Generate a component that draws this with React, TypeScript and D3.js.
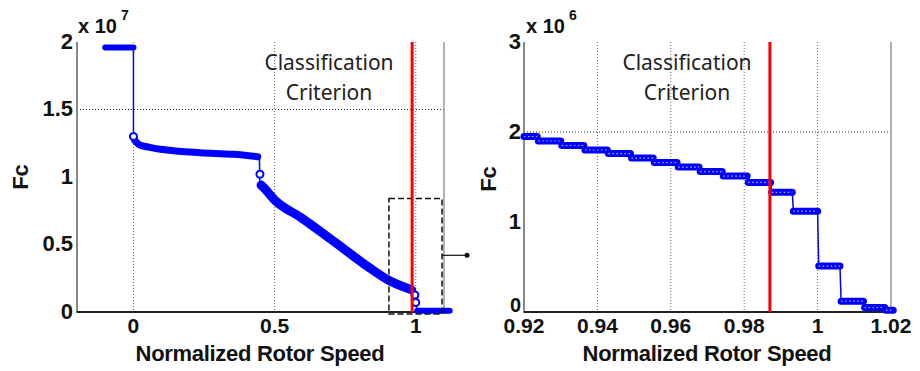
import * as d3 from 'd3';

// left panel: full range (Fc in units of 1e7)
const flatX = [-0.1, 0.0];
const flatY = [1.96, 1.96];
const plateauX = [0.005, 0.02, 0.057, 0.117, 0.236, 0.354, 0.44];
const plateauY = [1.27, 1.24, 1.22, 1.2, 1.18, 1.168, 1.15];
const decayX = [0.452, 0.462, 0.5, 0.593, 0.712, 0.831, 0.902, 0.985];
const decayY = [0.94, 0.92, 0.83, 0.7, 0.52, 0.335, 0.237, 0.165];
const tailX = [1.005, 1.12];
const tailY = [0.01, 0.01];
const jumpMarkers = [
  { x: 0.0, y: 1.3 },
  { x: 0.448, y: 1.02 },
  { x: 0.997, y: 0.126 },
  { x: 1.0, y: 0.07 },
];
const leftXTicks = [0, 0.5, 1];
const leftYTicks = [0, 0.5, 1, 1.5, 2];

// right panel: zoom (Fc in units of 1e6)
const stepStart = [0.92, 0.9239, 0.9303, 0.9366, 0.943, 0.9493, 0.9555, 0.962, 0.968, 0.9743, 0.9811, 0.9875, 0.9934, 1.0003, 1.0064, 1.0128, 1.0186];
const stepEnd = [0.9236, 0.93, 0.9363, 0.9427, 0.949, 0.9552, 0.9617, 0.9677, 0.974, 0.9808, 0.9872, 0.9931, 1.0, 1.0061, 1.0125, 1.0183, 1.0206];
const stepLevel = [1.95, 1.9, 1.85, 1.8, 1.76, 1.71, 1.66, 1.61, 1.56, 1.51, 1.44, 1.33, 1.12, 0.51, 0.12, 0.05, 0.02];
const rightXTicks = [0.92, 0.94, 0.96, 0.98, 1, 1.02];
const rightYTicks = [0, 1, 2, 3];

const criterion = 0.987;

const W = 920;
const H = 371;
const blue = '#0000ff';
const tickFont = '"Liberation Sans", Arial, sans-serif';
const noteFont = '"Noto Sans", "Open Sans", sans-serif';
const tickSize = 21;
const tickBase = 333;
const titleBase = 361;

type Pt = { x: number; y: number };
const zip = (xs: number[], ys: number[]): Pt[] => xs.map((x, i) => ({ x, y: ys[i] }));

function LeftPanel() {
  const x = d3.scaleLinear().domain([-0.2, 1.1]).range([77, 444]);
  const y = d3.scaleLinear().domain([0, 2]).range([312, 42]);
  const line = d3.line<Pt>().x(d => x(d.x)).y(d => y(d.y));
  const smooth = d3.line<Pt>().x(d => x(d.x)).y(d => y(d.y)).curve(d3.curveMonotoneX);
  const [x0, x1] = x.range();
  const [yb, yt] = y.range();

  const thin: Pt[] = [
    { x: 0, y: flatY[1] }, { x: 0, y: plateauY[0] },
  ];
  const thin2: Pt[] = [
    { x: 0.446, y: plateauY[plateauY.length - 1] }, { x: 0.448, y: decayY[0] },
  ];
  const thin3: Pt[] = [
    { x: 0.985, y: 0.165 }, { x: 1.0, y: 0.07 }, { x: 1.005, y: 0.01 },
  ];

  const boxX0 = x(0.905), boxX1 = x(1.093), boxY0 = y(0.84), boxY1 = y(-0.015);
  const arrowY = y(0.42);

  return (
    <g>
      {/* grid */}
      <line x1={x0} x2={x1} y1={y(1.5)} y2={y(1.5)} stroke="#333" strokeWidth={1} strokeDasharray="1,2" />
      {leftXTicks.map(t => (
        <line key={t} x1={x(t)} x2={x(t)} y1={yt} y2={yb} stroke="#666" strokeWidth={1} strokeDasharray="1,2" />
      ))}
      {/* axes */}
      <line x1={x0} x2={x0} y1={yt} y2={yb + 1} stroke="#888" strokeWidth={2} />
      <line x1={x1} x2={x1} y1={yt} y2={yb} stroke="#999" strokeWidth={1.5} />
      <line x1={x0} x2={x1} y1={yb} y2={yb} stroke="#222" strokeWidth={2} />
      {leftYTicks.map(t => (
        <text key={t} x={x0 - 4} y={y(t)} dy="0.3em" textAnchor="end" fontFamily={tickFont} fontWeight="bold" fontSize={22} fill="#111">{t}</text>
      ))}
      {leftXTicks.map(t => (
        <text key={t} x={x(t)} y={tickBase} textAnchor="middle" fontFamily={tickFont} fontWeight="bold" fontSize={tickSize} fill="#111">{t}</text>
      ))}
      <text x={78} y={33} fontFamily={tickFont} fontWeight="bold" fontSize={20} fill="#111">x 10</text>
      <text x={121} y={20} fontFamily={tickFont} fontWeight="bold" fontSize={14} fill="#111">7</text>
      <text x={260} y={titleBase} textAnchor="middle" fontFamily={tickFont} fontWeight="bold" fontSize={22} letterSpacing={-0.3} fill="#111">Normalized Rotor Speed</text>
      <text transform="translate(28,177) rotate(-90)" textAnchor="middle" fontFamily={tickFont} fontWeight="bold" fontSize={22} fill="#111">Fc</text>

      {/* data */}
      <path d={line(thin) ?? ''} fill="none" stroke={blue} strokeWidth={1.5} />
      <path d={line(thin2) ?? ''} fill="none" stroke={blue} strokeWidth={1.5} />
      <path d={line(thin3) ?? ''} fill="none" stroke={blue} strokeWidth={1.5} />
      <path d={line(zip(flatX, flatY)) ?? ''} fill="none" stroke={blue} strokeWidth={6} strokeLinecap="round" />
      <path d={smooth(zip(plateauX, plateauY)) ?? ''} fill="none" stroke={blue} strokeWidth={7} strokeLinecap="round" />
      <path d={smooth(zip(decayX, decayY)) ?? ''} fill="none" stroke={blue} strokeWidth={9} strokeLinecap="round" />
      <path d={line(zip(tailX, tailY)) ?? ''} fill="none" stroke={blue} strokeWidth={6} strokeLinecap="round" />
      {jumpMarkers.map((m, i) => (
        <circle key={i} cx={x(m.x)} cy={y(m.y)} r={3.5} fill="#fff" stroke={blue} strokeWidth={2} />
      ))}

      {/* zoom box */}
      <rect x={boxX0} y={boxY0} width={boxX1 - boxX0} height={boxY1 - boxY0} fill="none" stroke="#111" strokeWidth={1.5} strokeDasharray="6,3" />
      <line x1={boxX1} x2={467} y1={arrowY} y2={arrowY} stroke="#111" strokeWidth={1.2} />
      <circle cx={467} cy={arrowY} r={2.5} fill="#111" />

      {/* criterion */}
      <line x1={x(criterion)} x2={x(criterion)} y1={yt} y2={yb} stroke="#ff0000" strokeWidth={3} />
      <text x={329} y={70} textAnchor="middle" fontFamily={noteFont} fontSize={21} fill="#222">Classification</text>
      <text x={329} y={100} textAnchor="middle" fontFamily={noteFont} fontSize={21} fill="#222">Criterion</text>
    </g>
  );
}

function RightPanel() {
  const x = d3.scaleLinear().domain([0.92, 1.02]).range([524, 891]);
  const y = d3.scaleLinear().domain([0, 3]).range([312, 42]);
  const line = d3.line<Pt>().x(d => x(d.x)).y(d => y(d.y));
  const [x0, x1] = x.range();
  const [yb, yt] = y.range();

  const path: Pt[] = [];
  stepLevel.forEach((lv, i) => {
    path.push({ x: stepStart[i], y: lv });
    path.push({ x: stepEnd[i], y: lv });
  });

  return (
    <g>
      <line x1={x0} x2={x1} y1={y(2)} y2={y(2)} stroke="#333" strokeWidth={1} strokeDasharray="1,2" />
      {rightXTicks.slice(1, -1).map(t => (
        <line key={t} x1={x(t)} x2={x(t)} y1={yt} y2={yb} stroke="#666" strokeWidth={1} strokeDasharray="1,2" />
      ))}
      <line x1={x0} x2={x0} y1={yt} y2={yb + 1} stroke="#888" strokeWidth={2} />
      <line x1={x1} x2={x1} y1={yt} y2={yb} stroke="#999" strokeWidth={1.5} />
      <line x1={x0} x2={x1} y1={yb} y2={yb} stroke="#222" strokeWidth={2} />
      {rightYTicks.map(t => (
        <text key={t} x={x0 - 3} y={t === 0 ? y(t) - 6 : y(t)} dy="0.3em" textAnchor="end" fontFamily={tickFont} fontWeight="bold" fontSize={t === 0 ? 20 : 22} fill="#111">{t}</text>
      ))}
      {rightXTicks.map(t => (
        <text key={t} x={x(t)} y={tickBase} textAnchor="middle" fontFamily={tickFont} fontWeight="bold" fontSize={tickSize} fill="#111">{t}</text>
      ))}
      <text x={526} y={33} fontFamily={tickFont} fontWeight="bold" fontSize={20} fill="#111">x 10</text>
      <text x={569} y={20} fontFamily={tickFont} fontWeight="bold" fontSize={14} fill="#111">6</text>
      <text x={707} y={titleBase} textAnchor="middle" fontFamily={tickFont} fontWeight="bold" fontSize={22} letterSpacing={-0.3} fill="#111">Normalized Rotor Speed</text>
      <text transform="translate(496,179) rotate(-90)" textAnchor="middle" fontFamily={tickFont} fontWeight="bold" fontSize={22} fill="#111">Fc</text>

      <path d={line(path) ?? ''} fill="none" stroke={blue} strokeWidth={1.5} />
      {stepLevel.map((lv, i) => (
        <g key={i}>
          <line x1={x(stepStart[i])} x2={x(stepEnd[i])} y1={y(lv)} y2={y(lv)} stroke={blue} strokeWidth={7} strokeLinecap="round" />
          <line x1={x(stepStart[i])} x2={x(stepEnd[i])} y1={y(lv)} y2={y(lv)} stroke="#fff" strokeOpacity={0.7} strokeWidth={1.2} strokeDasharray="1.5,2.5" />
        </g>
      ))}

      <line x1={x(criterion)} x2={x(criterion)} y1={yt} y2={yb} stroke="#ff0000" strokeWidth={3} />
      <text x={687} y={70} textAnchor="middle" fontFamily={noteFont} fontSize={21} fill="#222">Classification</text>
      <text x={687} y={100} textAnchor="middle" fontFamily={noteFont} fontSize={21} fill="#222">Criterion</text>
    </g>
  );
}

export default function App() {
  return (
    <svg width={W} height={H} viewBox={`0 0 ${W} ${H}`} style={{ position: 'absolute', left: 0, top: 0, background: '#fff' }}>
      <rect width={W} height={H} fill="#fff" />
      <LeftPanel />
      <RightPanel />
    </svg>
  );
}
